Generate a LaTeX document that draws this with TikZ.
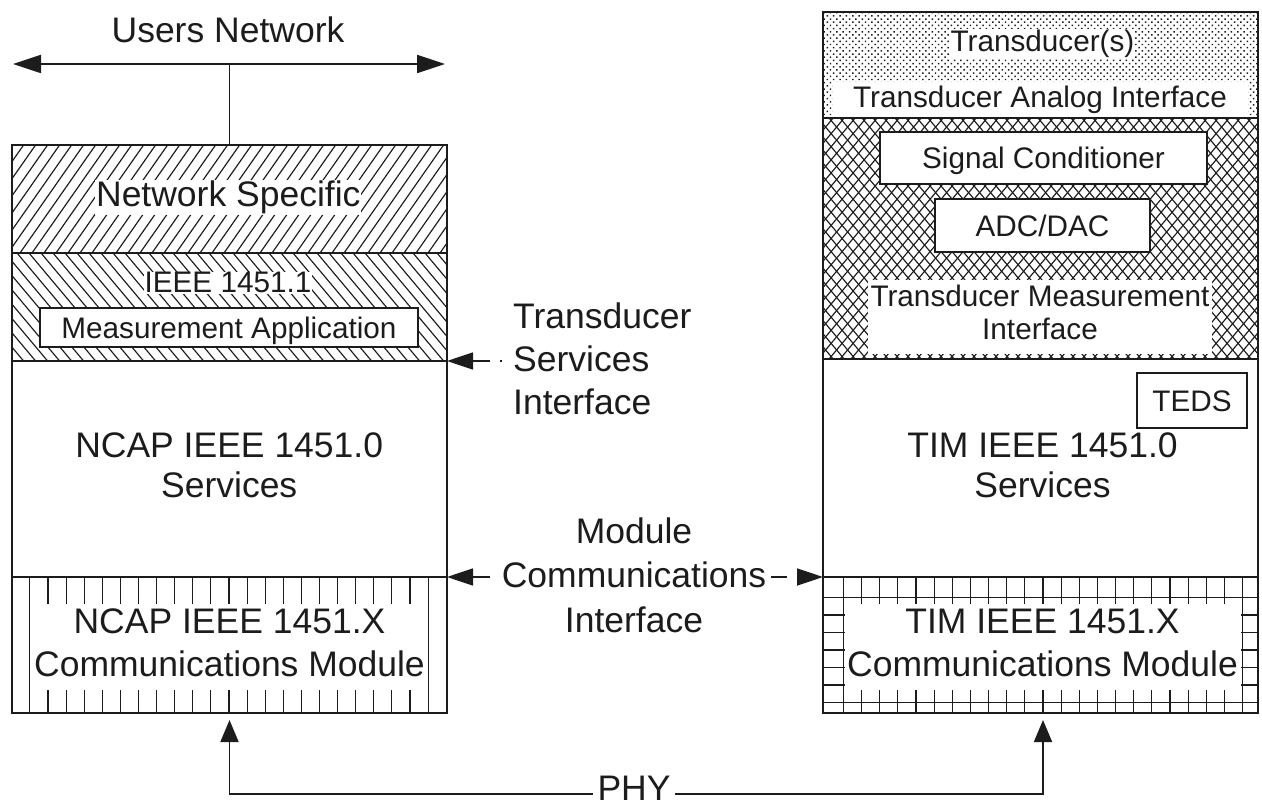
\documentclass[tikz,border=0pt]{standalone}
\usepackage{fontspec}
\setmainfont{Liberation Sans}
\usetikzlibrary{arrows.meta,patterns.meta}
\definecolor{ink}{HTML}{1C1C1C}
\newcommand\fsBig{\fontsize{35.5pt}{43pt}\selectfont}
\newcommand\fsSmall{\fontsize{29.7pt}{33.5pt}\selectfont}
\begin{document}
\begin{tikzpicture}[x=1pt,y=-1pt,
  block/.style={draw=ink,line width=1.8pt,inner sep=0pt,outer sep=0pt,anchor=north west},
  hatch/.style={draw=ink,line width=1.15pt},
  big/.style={font=\fsBig,text=ink,inner sep=0pt,align=center},
  small/.style={font=\fsSmall,text=ink,inner sep=0pt,align=center},
  halo/.style={fill=white,inner sep=1pt},
  subbox/.style={draw=ink,line width=1.8pt,fill=white,inner sep=0pt,outer sep=0pt,
    font=\fsSmall,text=ink,text height=22pt,text depth=0pt},
  link/.style={draw=ink,line width=1.8pt},
  netarrow/.style={link,{Triangle[length=28pt,width=18pt]}-{Triangle[length=28pt,width=18pt]}},
  ifarrow/.style={link,-{Triangle[length=26pt,width=17pt]}},
  phyarrow/.style={link,-{Triangle[length=22pt,width=18pt]},shorten >=7pt},
]
\useasboundingbox (0,0) rectangle (1262,805);
\fill[white] (0,0) rectangle (1262,805);

% ---------- fill textures ----------
% Network Specific: forward hatching
\begin{scope}
  \clip (12,145) rectangle (447,253);
  \foreach \x in {-64,-52,...,447} \draw[hatch] (\x,253) -- ++(75.6,-108);
\end{scope}
% IEEE 1451.1: backward hatching
\begin{scope}
  \clip (12,253) rectangle (447,361);
  \foreach \x in {-79,-67,...,447} \draw[hatch] (\x,253) -- ++(90.6,108);
\end{scope}
% Transducer(s): dot screen
\fill[pattern={Dots[radius=1.05pt,distance=4.5pt,angle=45]},pattern color=ink]
  (823,12) rectangle (1258,118);
% Transducer measurement area: cross hatching
\begin{scope}
  \clip (823,118) rectangle (1258,359);
  \foreach \x in {620,631,...,1258} {
    \draw[hatch] (\x,359) -- ++(202.2,-241);
    \draw[hatch] (\x,118) -- ++(202.2,241);
  }
\end{scope}
% NCAP communications module: vertical ruling
\foreach \k in {-11,...,11} \draw[hatch] ({229+18.1*\k},577) -- ++(0,136);
\fill[white] (31,604) rectangle (427,690);
% TIM communications module: grid
\foreach \k in {-11,...,11} \draw[hatch] ({1043+18.15*\k},577) -- ++(0,136);
\foreach \y in {597.5,615,632.5,650,667.5,685,702.5} \draw[hatch] (823,\y) -- (1258,\y);
\fill[white] (844.5,604) rectangle (1241,690);

% ---------- layer blocks ----------
\node[block,minimum width=435pt,minimum height=108pt] (netspec)  at (12,145) {};
\node[block,minimum width=435pt,minimum height=108pt] (ieee11)   at (12,253) {};
\node[block,minimum width=435pt,minimum height=216pt] (ncapsvc)  at (12,361) {};
\node[block,minimum width=435pt,minimum height=136pt] (ncapcomm) at (12,577) {};
\node[block,minimum width=435pt,minimum height=106pt] (transd)   at (823,12) {};
\node[block,minimum width=435pt,minimum height=241pt] (tmeas)    at (823,118) {};
\node[block,minimum width=435pt,minimum height=218pt] (timsvc)   at (823,359) {};
\node[block,minimum width=435pt,minimum height=136pt] (timcomm)  at (823,577) {};

% ---------- NCAP side ----------
\node[big] (usersnet) at (228,30) {Users Network};
\node[big,halo,anchor=base] (nstext) at (228.3,207) {Network Specific};
\node[small,halo,anchor=base] (ieeetext) at (228,293) {IEEE 1451.1};
\node[subbox,minimum width=378pt,minimum height=39pt] (measapp) at (229,327.5) {Measurement Application};
% multi-line labels: the base anchor sits on the last line
\node[big,anchor=base,font=\fontsize{35.5pt}{39.5pt}\selectfont] (ncapsvctext) at (229.2,497)
  {NCAP IEEE 1451.0\\Services};
\node[big,anchor=base,font=\fontsize{35.5pt}{42.5pt}\selectfont] (ncapcommtext) at (229.5,676)
  {NCAP IEEE 1451.X\\Communications Module};

% ---------- TIM side ----------
\node[small,halo,anchor=base] (transdtext) at (1042.5,52) {Transducer(s)};
\node[small,fill=white,minimum width=415pt,minimum height=35pt] (analog) at (1040,99.5)
  {Transducer Analog Interface};
\node[subbox,minimum width=327pt,minimum height=52pt] (sigcond) at (1043.5,158) {Signal Conditioner};
\node[subbox,minimum width=215pt,minimum height=53pt] (adc) at (1042.5,225.5) {ADC/DAC};
\node[small,fill=white,minimum width=344pt,minimum height=74pt,text depth=10pt] (tmitext) at (1040,317)
  {Transducer Measurement\\Interface};
\node[subbox,minimum width=110pt,minimum height=55pt] (teds) at (1192,400.5) {TEDS};
\node[big,anchor=base,font=\fontsize{35.5pt}{39.5pt}\selectfont] (timsvctext) at (1042.5,497)
  {TIM IEEE 1451.0\\Services};
\node[big,anchor=base,font=\fontsize{35.5pt}{42.5pt}\selectfont] (timcommtext) at (1042.5,676)
  {TIM IEEE 1451.X\\Communications Module};

% ---------- interface labels ----------
\node[big,align=left,anchor=base west] (tsi) at (513,414) {Transducer\\Services\\Interface};
\node[big,anchor=base,font=\fontsize{35.5pt}{44.5pt}\selectfont] (mci) at (634,632)
  {Module\\Communications\\Interface};
\node[big,anchor=base,inner xsep=4pt,inner ysep=0pt] (phy) at (634,800) {PHY};

% ---------- connectors ----------
\coordinate (unL) at (13,64);
\coordinate (unR) at (445,64);
\draw[netarrow] (unL) -- (unR);
\draw[link] (netspec.north) -- (netspec.north |- unL);
\draw[ifarrow,dash pattern=on 2pt off 10pt on 300pt,shorten <=11pt]
  (tsi.west |- ieee11.south) -- (ieee11.south east);
\draw[ifarrow,shorten <=12pt] (mci.west |- ncapcomm.north) -- (ncapcomm.north east);
\draw[ifarrow,dash pattern=on 16pt off 40pt,shorten <=5pt]
  (mci.east |- timcomm.north) -- (timcomm.north west);
\draw[phyarrow] ([yshift=6pt]phy.base west) -| (ncapcomm.south);
\draw[phyarrow] ([yshift=6pt]phy.base east) -| ([xshift=2.5pt]timcomm.south);
\end{tikzpicture}
\end{document}
